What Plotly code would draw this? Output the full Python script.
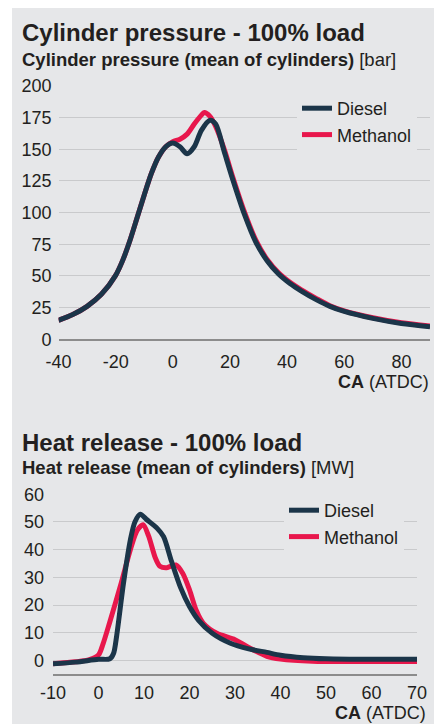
import plotly.graph_objects as go

# ---------------- data ----------------
# Cylinder pressure [bar] vs crank angle
cp_ca_diesel = [-40, -35, -30, -25, -20, -17.5, -15, -12.5, -10, -7.5, -5, -2.5, 0, 2.5, 5, 7.5, 10, 13, 15, 18, 21, 25, 29, 33, 37, 41, 45, 50, 55, 60, 70, 80, 90]
cp_diesel = [15, 19.5, 26, 35.5, 50.5, 62.5, 78, 96, 114, 131, 144, 152, 155, 152, 146.5, 152, 165, 173, 170, 148, 126, 99, 77, 62, 51.5, 44, 38, 31.5, 26, 22, 16.5, 12.5, 10]
cp_ca_methanol = [-40, -35, -30, -25, -20, -17.5, -15, -12.5, -10, -7.5, -5, -2.5, 0, 2.5, 5, 7.5, 10, 11, 13, 15, 18, 21, 25, 29, 33, 37, 41, 45, 50, 55, 60, 70, 80, 90]
cp_methanol = [15, 19.5, 26, 35.5, 50.5, 62.5, 78, 96, 114, 131, 144, 152, 156, 158, 162, 170, 177, 179, 176, 168, 150, 128, 101, 78.5, 63, 52.5, 45, 39, 32.5, 26.5, 22.5, 17, 13, 10.5]

# Heat release [MW] vs crank angle
hr_ca_diesel = [-10, -5, 0, 2.5, 3.3, 4, 5.5, 7, 8, 9.2, 10.5, 12.9, 14.3, 16, 18, 20, 22, 25, 29, 33, 37, 40, 45, 50, 60, 70]
hr_diesel = [-1.2, -0.6, 0.4, 0.6, 2.5, 9, 28, 43.5, 50, 52.8, 51, 47.7, 44.7, 36, 26.5, 19.5, 14.5, 9.8, 6.2, 4.2, 2.9, 1.9, 1.0, 0.6, 0.4, 0.4]
hr_ca_methanol = [-10, -5, -2, 0, 1, 2.5, 5, 7, 8.5, 9.8, 11, 12.5, 13.5, 15, 17, 18.5, 20, 21.5, 23, 26, 30, 33, 37, 40, 47, 60, 70]
hr_methanol = [-1.2, -0.5, 0.3, 2, 6, 14, 28, 40, 47, 49, 45, 37, 34, 33.5, 34.5, 31.5, 25.5, 18, 13.5, 9.8, 7.5, 4.7, 1.5, 0.5, -0.3, -0.4, -0.4]

cp_xticks = [-40, -20, 0, 20, 40, 60, 80]
cp_xlabels = ["-40", "-20", "0", "20", "40", "60", "80"]
cp_yticks = [0, 25, 50, 75, 100, 125, 150, 175, 200]
hr_xticks = [-10, 0, 10, 20, 30, 40, 50, 60, 70]
hr_xlabels = ["-10", "0", "10", "20", "30", "40", "50", "60", "70"]
hr_yticks = [0, 10, 20, 30, 40, 50, 60]

# ---------------- style ----------------
W, H = 434, 724
BG = "#e6e7e9"
DIESEL = "#1b3549"
METHANOL = "#e8174c"
GRID = "#c9cacc"
AXIS = "#8c8c8c"
TXT = "#231f20"
FONT = "Liberation Sans, Arial, sans-serif"


def px_x(p):
    return p / W


def px_y(p):
    return 1 - p / H


fig = go.Figure()

fig.add_trace(go.Scatter(x=cp_ca_methanol, y=cp_methanol, mode="lines", name="Methanol",
                         line=dict(color=METHANOL, width=5, shape="spline", smoothing=0.8),
                         xaxis="x", yaxis="y", legend="legend", legendrank=2))
fig.add_trace(go.Scatter(x=cp_ca_diesel, y=cp_diesel, mode="lines", name="Diesel",
                         line=dict(color=DIESEL, width=5, shape="spline", smoothing=0.8),
                         xaxis="x", yaxis="y", legend="legend", legendrank=1))
fig.add_trace(go.Scatter(x=hr_ca_methanol, y=hr_methanol, mode="lines", name="Methanol",
                         line=dict(color=METHANOL, width=5, shape="spline", smoothing=0.8),
                         xaxis="x2", yaxis="y2", legend="legend2", legendrank=2))
fig.add_trace(go.Scatter(x=hr_ca_diesel, y=hr_diesel, mode="lines", name="Diesel",
                         line=dict(color=DIESEL, width=5, shape="spline", smoothing=0.8),
                         xaxis="x2", yaxis="y2", legend="legend2", legendrank=1))

tickfont = dict(family=FONT, size=18, color=TXT)

fig.update_layout(
    template="none",
    width=W, height=H,
    margin=dict(l=0, r=0, t=0, b=0, pad=0),
    paper_bgcolor="white",
    plot_bgcolor=BG,
    font=dict(family=FONT, color=TXT),
    xaxis=dict(domain=[px_x(58.5), px_x(430)], range=[-40, 90], tickvals=cp_xticks, ticktext=cp_xlabels,
               showgrid=False, zeroline=False, showline=True, linecolor=AXIS, linewidth=1.5,
               ticks="", tickfont=tickfont, ticklabelstandoff=5, anchor="y", automargin=False,
               fixedrange=True),
    yaxis=dict(domain=[px_y(339.3), px_y(86)], range=[0, 200], tickvals=cp_yticks,
               showgrid=True, gridcolor=GRID, gridwidth=1.2, zeroline=False, showline=False,
               ticks="", tickfont=tickfont, ticklabelstandoff=6, anchor="x", automargin=False,
               fixedrange=True),
    xaxis2=dict(domain=[px_x(53), px_x(417)], range=[-10, 70], tickvals=hr_xticks, ticktext=hr_xlabels,
                showgrid=False, zeroline=False, showline=True, linecolor=AXIS, linewidth=1.5,
                ticks="", tickfont=tickfont, ticklabelstandoff=1, anchor="y2", automargin=False,
                fixedrange=True),
    yaxis2=dict(domain=[px_y(674.3), px_y(494.3)], range=[-5, 60], tickvals=hr_yticks,
                showgrid=True, gridcolor=GRID, gridwidth=1.2, zeroline=False, showline=False,
                ticks="", tickfont=tickfont, ticklabelstandoff=8, anchor="x2", automargin=False,
                fixedrange=True),
    legend=dict(x=px_x(297), y=px_y(90), xanchor="left", yanchor="top", bgcolor=BG,
                font=dict(family=FONT, size=18, color=TXT), itemwidth=30,
                tracegroupgap=0, borderwidth=0),
    legend2=dict(x=px_x(284), y=px_y(492), xanchor="left", yanchor="top", bgcolor=BG,
                 font=dict(family=FONT, size=18, color=TXT), itemwidth=30,
                 tracegroupgap=0, borderwidth=0),
    showlegend=True,
)

fig.add_shape(type="rect", xref="paper", yref="paper", x0=px_x(12), x1=1, y0=0, y1=px_y(8),
              fillcolor=BG, line=dict(width=0), layer="below")

ann = [
    dict(text="<b>Cylinder pressure - 100% load</b>", x=px_x(20), y=px_y(32), size=24),
    dict(text="<b>Cylinder pressure (mean of cylinders)</b> [bar]", x=px_x(20), y=px_y(59), size=18.5),
    dict(text="<b>Heat release - 100% load</b>", x=px_x(20), y=px_y(442), size=24),
    dict(text="<b>Heat release (mean of cylinders)</b> [MW]", x=px_x(20), y=px_y(467), size=18.5),
]
for a in ann:
    fig.add_annotation(text=a["text"], x=a["x"], y=a["y"], xref="paper", yref="paper",
                       xanchor="left", yanchor="middle", showarrow=False,
                       font=dict(family=FONT, size=a["size"], color=TXT))

fig.add_annotation(text="<b>CA</b> (ATDC)", x=px_x(431), y=px_y(382), xref="paper", yref="paper",
                   xanchor="right", yanchor="middle", showarrow=False,
                   font=dict(family=FONT, size=18, color=TXT))
fig.add_annotation(text="<b>CA</b> (ATDC)", x=px_x(428), y=px_y(713), xref="paper", yref="paper",
                   xanchor="right", yanchor="middle", showarrow=False,
                   font=dict(family=FONT, size=18, color=TXT))

fig.write_html("out.html", config={"displayModeBar": False},
               post_script="document.body.style.margin='0';document.body.style.overflow='hidden';")
